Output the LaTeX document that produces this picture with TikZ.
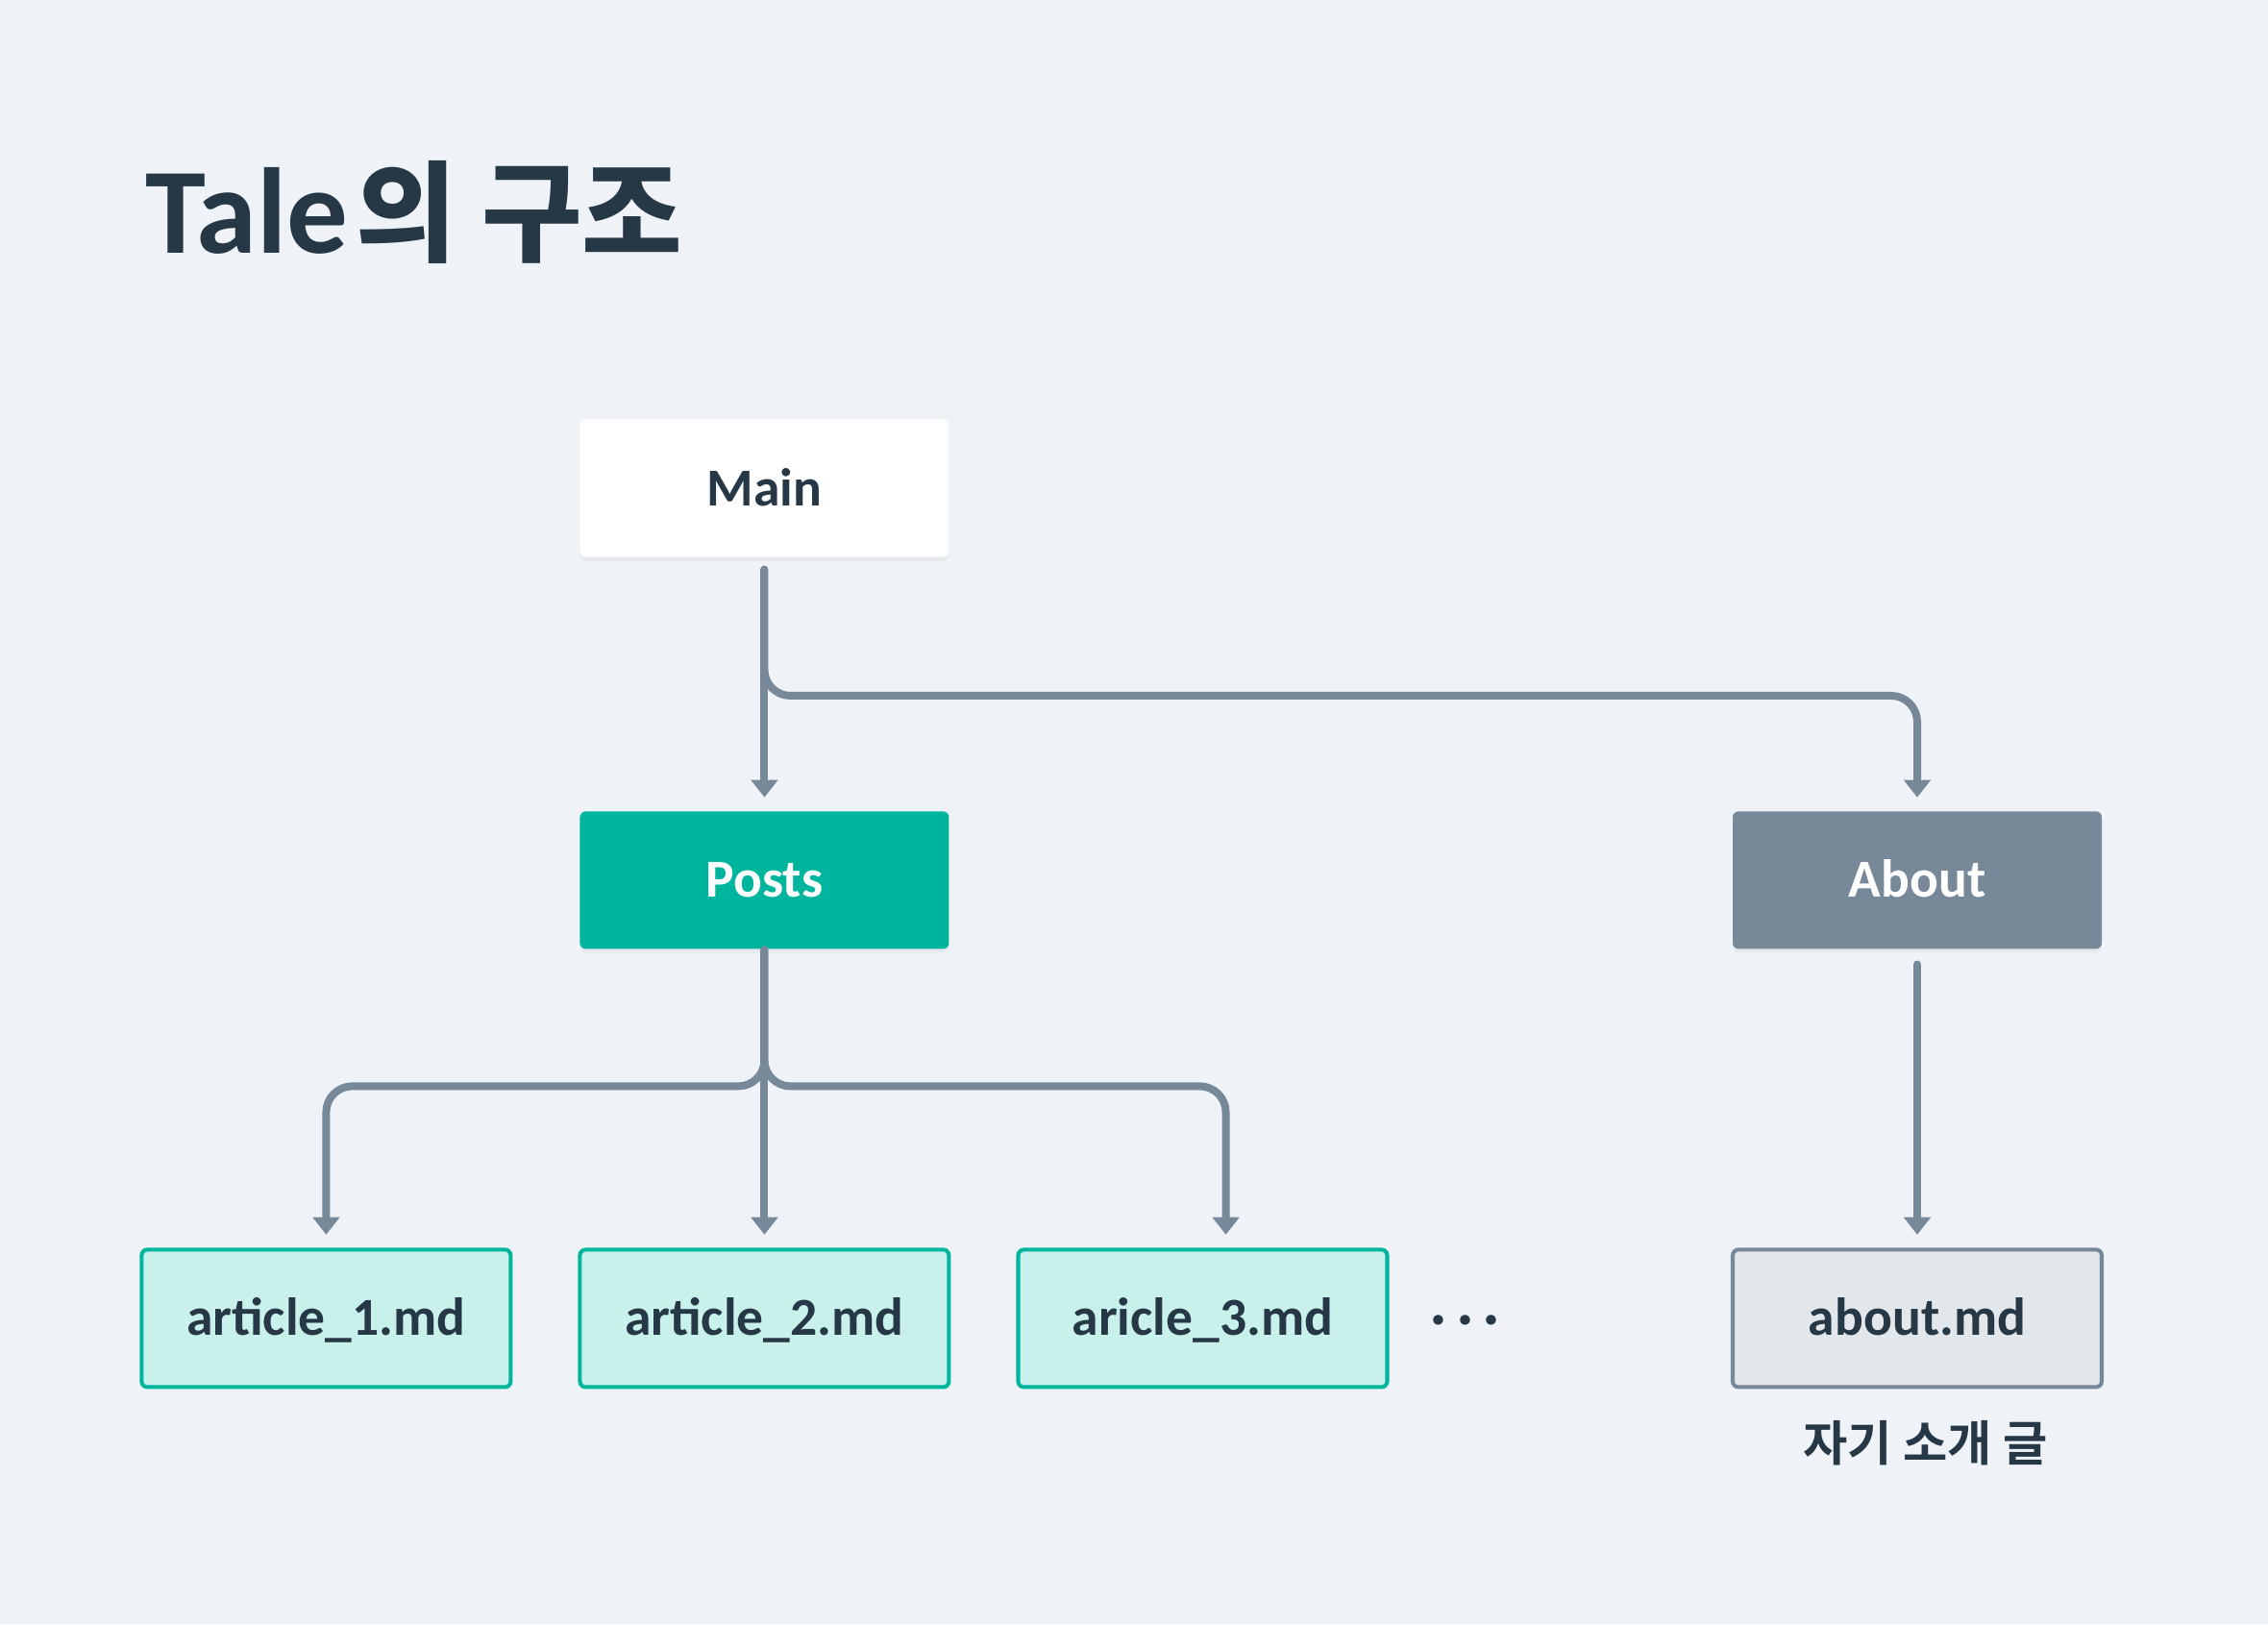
\documentclass[tikz,border=0pt]{standalone}
\usepackage{fontspec}
\usepackage{xcolor}
\usetikzlibrary{arrows.meta}
\usetikzlibrary{shadows}
\setmainfont{Carlito}
\newfontfamily\krfont{Noto Sans CJK KR Bold}
\definecolor{bgcol}{HTML}{EFF3F7}
\definecolor{ink}{HTML}{263746}
\definecolor{tealc}{HTML}{00B59D}
\definecolor{slate}{HTML}{778899}
\definecolor{mint}{HTML}{C8F1EB}
\definecolor{mist}{HTML}{E2E7EB}
\tikzset{
    box/.style={rounded corners=0.04cm, minimum width=2.55cm, minimum height=0.95cm,
        inner sep=0pt, text height=0.24cm, text depth=0cm,
        font=\fontsize{10.5}{12}\selectfont\bfseries},
    softshadow/.style={drop shadow={opacity=0.035, fill=black, shadow xshift=0pt, shadow yshift=-0.8pt}},
    mainbox/.style={box, fill=white, text=ink, softshadow},
    postbox/.style={box, fill=tealc, text=white, softshadow},
    aboutbox/.style={box, fill=slate, text=white, softshadow},
    artbox/.style={box, draw=tealc, fill=mint, line width=0.027cm, text=ink},
    filebox/.style={box, draw=slate, fill=mist, line width=0.027cm, text=ink},
    link/.style={draw=slate, line width=0.053cm, line cap=round, rounded corners=0.18cm,
        -{Triangle[width=0.18cm,length=0.12cm]}, shorten >=0.09cm},
}

\begin{document}
\begin{tikzpicture}[x=0.01cm, y=-0.01cm]
    \path [fill=bgcol] (0, 0) rectangle (1568, 1123);

    \path (100, 175) node [anchor=base west, inner sep=0pt, text=ink,
        font=\fontsize{24}{27}\selectfont\bfseries] (title)
        {Tale\kern0.06em{\krfont\fontsize{21.5}{25}\selectfont 의 구조}};

    \path (528.5, 337.5) node [mainbox] (main) {Main};
    \path (528.5, 608.5) node [postbox] (posts) {Posts};
    \path (1325.5, 608.5) node [aboutbox] (about) {About};

    \path (225.5, 911.5) node [artbox] (art1) {article\_1.md};
    \path (528.5, 911.5) node [artbox] (art2) {article\_2.md};
    \path (831.5, 911.5) node [artbox] (art3) {aricle\_3.md};
    \path (1013, 911.5) node [box, minimum width=0pt, text=ink] (dots) {· · ·};
    \path (1325.5, 911.5) node [filebox] (aboutmd) {about.md};
    \path (1331, 998) node [text=ink, font=\krfont\fontsize{9.5}{11}\selectfont] (note) {자기 소개 글};

    \coordinate (mainfork) at (528.5, 481);
    \coordinate (postfork) at (528.5, 751);
    \coordinate (art3in) at ([xshift=0.16cm]art3.north);

    \draw [link, shorten <=0.08cm] (main) -- (posts);
    \draw [link, shorten <=0.08cm] (main.south) -- (mainfork) -- (mainfork -| about) -- (about.north);

    \draw [link] (posts) -- (art2);
    \draw [link] (posts.south) -- (postfork) -- (postfork -| art1) -- (art1.north);
    \draw [link] (posts.south) -- (postfork) -- (postfork -| art3in) -- (art3in);

    \draw [link, shorten <=0.1cm] (about) -- (aboutmd);
\end{tikzpicture}
\end{document}
